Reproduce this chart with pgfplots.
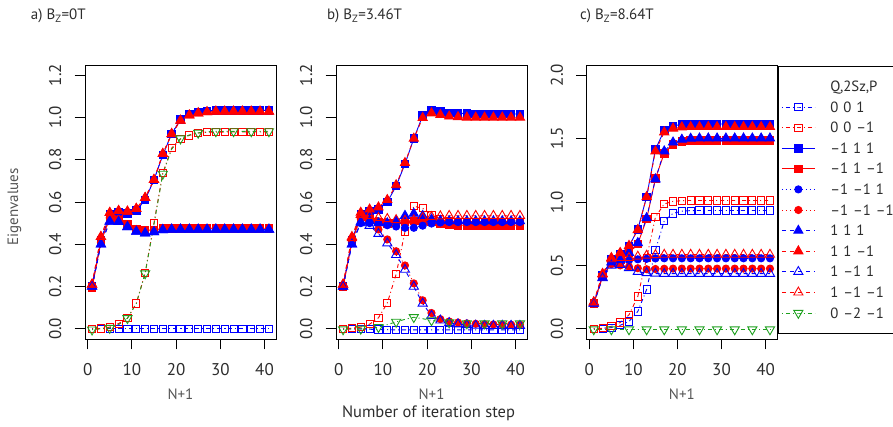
\documentclass[border=0pt]{standalone}
\usepackage{fontspec}
\setmainfont{PT Sans}
\usepackage{pgfplots}
\usepackage{pgfplotstable}
\pgfplotsset{compat=1.18}

\definecolor{cblue}{RGB}{0,0,255}
\definecolor{cred}{RGB}{255,0,0}
\definecolor{cgreen}{RGB}{30,160,30}
\definecolor{txt}{RGB}{45,45,45}
\definecolor{lab}{RGB}{85,85,85}
\newcommand\fs{\fontsize{15}{18}\selectfont}
\newcommand\ft{\fontsize{17}{20}\selectfont}

% eigenvalues per symmetry sector, every second iteration step
\pgfplotstableread{
x   s1     s2     s3     s4     s5     s6     s7     s8     s9     s10    s11
1   0.000  0.000  0.200  0.195  0.200  0.195  0.200  0.210  0.200  0.210  -0.004
3   0.000  0.002  0.420  0.410  0.420  0.410  0.400  0.435  0.400  0.435  0.000
5   0.000  0.008  0.540  0.525  0.540  0.525  0.508  0.549  0.508  0.549  0.004
7   0.000  0.025  0.550  0.520  0.550  0.520  0.506  0.558  0.506  0.558  0.020
9   0.000  0.050  0.545  0.495  0.545  0.495  0.482  0.555  0.482  0.555  0.050
11  0.000  0.120  0.560  0.472  0.560  0.472  0.460  0.568  0.460  0.568  0.120
13  0.000  0.263  0.610  0.466  0.610  0.466  0.452  0.620  0.452  0.620  0.262
15  0.000  0.500  0.705  0.468  0.705  0.468  0.458  0.705  0.458  0.705  0.495
17  0.000  0.737  0.822  0.474  0.822  0.474  0.468  0.828  0.468  0.828  0.733
19  0.000  0.855  0.922  0.476  0.922  0.476  0.470  0.922  0.470  0.922  0.850
21  0.000  0.898  0.990  0.476  0.990  0.476  0.470  0.985  0.470  0.985  0.900
23  0.000  0.915  1.016  0.476  1.016  0.476  0.470  1.010  0.470  1.010  0.917
25  0.000  0.926  1.026  0.476  1.026  0.476  0.470  1.020  0.470  1.020  0.927
27  0.000  0.930  1.031  0.476  1.031  0.476  0.470  1.025  0.470  1.025  0.932
29  0.000  0.930  1.033  0.476  1.033  0.476  0.470  1.028  0.470  1.028  0.934
31  0.000  0.931  1.033  0.476  1.033  0.476  0.470  1.028  0.470  1.028  0.934
33  0.000  0.931  1.033  0.476  1.033  0.476  0.470  1.028  0.470  1.028  0.934
35  0.000  0.931  1.033  0.476  1.033  0.476  0.470  1.028  0.470  1.028  0.934
37  0.000  0.931  1.033  0.476  1.033  0.476  0.470  1.028  0.470  1.028  0.934
39  0.000  0.931  1.033  0.476  1.033  0.476  0.470  1.028  0.470  1.028  0.934
41  0.000  0.931  1.033  0.476  1.033  0.476  0.470  1.028  0.470  1.028  0.934
}\tabA

\pgfplotstableread{
x   s1     s2     s3     s4     s5     s6     s7     s8     s9     s10    s11
1   0.000  0.000  0.200  0.198  0.200  0.200  0.200  0.210  0.200  0.210  -0.003
3   0.000  0.003  0.420  0.412  0.410  0.420  0.400  0.435  0.400  0.430  0.000
5   0.000  0.008  0.540  0.530  0.500  0.520  0.505  0.550  0.500  0.540  0.000
7  -0.002  0.022  0.555  0.520  0.500  0.520  0.510  0.565  0.488  0.535  0.004
9  -0.003  0.052  0.565  0.505  0.498  0.470  0.500  0.575  0.450  0.525  0.008
11 -0.004  0.122  0.600  0.498  0.490  0.423  0.500  0.610  0.405  0.520  0.020
13 -0.005  0.258  0.675  0.500  0.484  0.367  0.510  0.680  0.350  0.515  0.033
15 -0.005  0.460  0.780  0.505  0.478  0.300  0.535  0.785  0.280  0.512  0.045
17 -0.005  0.580  0.900  0.510  0.478  0.215  0.545  0.900  0.200  0.515  0.055
19 -0.005  0.570  1.008  0.510  0.488  0.135  0.535  0.998  0.120  0.525  0.048
21 -0.005  0.540  1.035  0.505  0.498  0.075  0.518  1.020  0.062  0.530  0.040
23 -0.005  0.520  1.027  0.497  0.503  0.046  0.512  1.012  0.040  0.533  0.034
25 -0.005  0.510  1.022  0.492  0.505  0.035  0.510  1.005  0.028  0.535  0.030
27 -0.005  0.505  1.020  0.490  0.505  0.030  0.510  1.002  0.022  0.535  0.028
29 -0.005  0.502  1.018  0.490  0.505  0.026  0.510  1.000  0.018  0.535  0.026
31 -0.005  0.500  1.017  0.490  0.505  0.024  0.510  1.000  0.016  0.535  0.025
33 -0.005  0.500  1.016  0.490  0.505  0.022  0.510  1.000  0.015  0.535  0.025
35 -0.005  0.500  1.016  0.490  0.505  0.021  0.510  1.000  0.015  0.535  0.025
37 -0.005  0.500  1.016  0.490  0.505  0.020  0.510  1.000  0.015  0.535  0.025
39 -0.005  0.500  1.016  0.490  0.505  0.020  0.510  1.000  0.015  0.535  0.025
41 -0.005  0.500  1.016  0.490  0.505  0.020  0.510  1.000  0.015  0.535  0.025
}\tabB

\pgfplotstableread{
x   s1     s2     s3     s4     s5     s6     s7     s8     s9     s10    s11
1   0.000  0.000  0.200  0.198  0.200  0.200  0.200  0.210  0.200  0.210  -0.005
3   0.002  0.004  0.420  0.410  0.410  0.410  0.405  0.435  0.400  0.430  -0.005
5   0.010  0.020  0.550  0.520  0.515  0.510  0.525  0.560  0.500  0.550  -0.005
7   0.028  0.050  0.590  0.545  0.530  0.500  0.545  0.600  0.505  0.560  -0.005
9   0.058  0.110  0.650  0.600  0.540  0.490  0.600  0.655  0.480  0.560  -0.005
11  0.137  0.255  0.785  0.670  0.548  0.478  0.677  0.780  0.450  0.570  -0.005
13  0.310  0.560  1.040  0.865  0.552  0.470  0.874  1.040  0.440  0.578  -0.005
15  0.620  0.880  1.415  1.185  0.555  0.472  1.180  1.400  0.436  0.582  -0.005
17  0.850  0.985  1.565  1.385  0.556  0.474  1.400  1.550  0.435  0.585  -0.005
19  0.910  1.005  1.600  1.455  0.556  0.475  1.470  1.580  0.435  0.585  -0.005
21  0.928  1.010  1.612  1.478  0.556  0.475  1.492  1.590  0.435  0.585  -0.005
23  0.932  1.012  1.615  1.483  0.556  0.475  1.500  1.592  0.435  0.585  -0.005
25  0.933  1.012  1.615  1.485  0.556  0.475  1.502  1.592  0.435  0.585  -0.005
27  0.933  1.012  1.615  1.485  0.556  0.475  1.502  1.592  0.435  0.585  -0.005
29  0.933  1.012  1.615  1.485  0.556  0.475  1.502  1.592  0.435  0.585  -0.005
31  0.933  1.012  1.615  1.485  0.556  0.475  1.502  1.592  0.435  0.585  -0.005
33  0.933  1.012  1.615  1.485  0.556  0.475  1.502  1.592  0.435  0.585  -0.005
35  0.933  1.012  1.615  1.485  0.556  0.475  1.502  1.592  0.435  0.585  -0.005
37  0.933  1.012  1.615  1.485  0.556  0.475  1.502  1.592  0.435  0.585  -0.005
39  0.933  1.012  1.615  1.485  0.556  0.475  1.502  1.592  0.435  0.585  -0.005
41  0.933  1.012  1.615  1.485  0.556  0.475  1.502  1.592  0.435  0.585  -0.005
}\tabC

\pgfplotsset{
  dotdash/.style={dash pattern=on 1pt off 3pt on 4pt off 3pt},
  ser/.style={line width=0.9pt, mark options={solid}},
  ser1/.style={ser, cblue, dotdash, mark=square, mark size=3.6pt},
  ser2/.style={ser, cred, dotdash, mark=square, mark size=3.6pt},
  ser3/.style={ser, cblue, solid, mark=square*, mark size=3.8pt},
  ser4/.style={ser, cred, solid, mark=square*, mark size=3.8pt},
  ser5/.style={ser, cblue, dash pattern=on 1pt off 3pt, mark=*, mark size=3.6pt},
  ser6/.style={ser, cred, dash pattern=on 1pt off 3pt, mark=*, mark size=3.6pt},
  ser7/.style={ser, cblue, dash pattern=on 4pt off 4pt, mark=triangle*, mark size=5.3pt},
  ser8/.style={ser, cred, dash pattern=on 4pt off 4pt, mark=triangle*, mark size=5.3pt},
  ser9/.style={ser, cblue, dash pattern=on 4pt off 4pt, mark=triangle, mark size=5.3pt},
  ser10/.style={ser, cred, dash pattern=on 4pt off 4pt, mark=triangle, mark size=5.3pt},
  ser11/.style={ser, cgreen, dotdash, mark=triangle, mark size=5.3pt,
    mark options={solid, rotate=180}, mark repeat=2, mark phase=1},
  panel/.style={
    scale only axis, width=191pt, height=274pt, anchor=south west,
    xmin=-0.6, xmax=42.6, xtick={0,10,20,30,40},
    tick pos=left, tick align=outside, major tick length=10.5pt,
    axis line style={line width=0.8pt, black},
    every tick/.style={line width=0.8pt, black},
    ticklabel style={font=\ft, text=txt},
    /pgf/number format/assume math mode=true,
    xticklabel style={inner sep=0pt},
    xticklabel shift=14pt, yticklabel shift=13pt,
    yticklabel style={rotate=90, anchor=south, inner sep=0pt,
      /pgf/number format/fixed, /pgf/number format/fixed zerofill,
      /pgf/number format/precision=1},
    xlabel={N+1},
    xlabel style={font=\fs, text=lab, at={(axis description cs:0.5,0)},
      anchor=center, yshift=-55pt},
  },
}

\newcommand\allplots[1]{%
  \addplot[ser1] table[x=x,y=s1]{#1};
  \addplot[ser2] table[x=x,y=s2]{#1};
  \addplot[ser3] table[x=x,y=s3]{#1};
  \addplot[ser4] table[x=x,y=s4]{#1};
  \addplot[ser5] table[x=x,y=s5]{#1};
  \addplot[ser6] table[x=x,y=s6]{#1};
  \addplot[ser7] table[x=x,y=s7]{#1};
  \addplot[ser8] table[x=x,y=s8]{#1};
  \addplot[ser9] table[x=x,y=s9]{#1};
  \addplot[ser10] table[x=x,y=s10]{#1};
  \addplot[ser11] table[x=x,y=s11]{#1};
}

\begin{document}
\begin{tikzpicture}
\useasboundingbox (0pt,0pt) rectangle (893pt,427pt);

\begin{axis}[panel, at={(85pt,88pt)}, ymin=-0.048, ymax=1.248,
  ytick={0,0.2,0.4,0.6,0.8,1.0,1.2}]
  \allplots{\tabA}
\end{axis}

\begin{axis}[panel, at={(336pt,88pt)}, ymin=-0.048, ymax=1.248,
  ytick={0,0.2,0.4,0.6,0.8,1.0,1.2}]
  \allplots{\tabB}
\end{axis}

\begin{axis}[panel, at={(586.7pt,88pt)}, width=190.3pt, ymin=-0.08, ymax=2.08,
  ytick={0,0.5,1.0,1.5,2.0},
  legend cell align=left,
  legend style={at={(axis description cs:1,1)}, anchor=north west,
    xshift=1.3pt, yshift=-0.7pt, draw=black, line width=0.8pt, fill=white,
    inner xsep=2.7pt, inner ysep=10pt, row sep=0pt, column sep=15pt,
    font=\fontsize{14.8}{18}\selectfont, text=txt,
    nodes={inner sep=0pt, text height=15.5pt, text depth=5.1pt,
      text width=75pt, align=left}},
  legend image code/.code={%
    \draw[#1, mark repeat=2, mark phase=2]
      plot coordinates {(0pt,0pt) (16.5pt,0pt) (33pt,0pt)};}]
  \addlegendimage{empty legend}
  \addlegendentry{Q,2Sz,P}
  \addplot[ser1] table[x=x,y=s1]{\tabC};   \addlegendentry{0 0 1}
  \addplot[ser2] table[x=x,y=s2]{\tabC};   \addlegendentry{0 0 –1}
  \addplot[ser3] table[x=x,y=s3]{\tabC};   \addlegendentry{–1 1 1}
  \addplot[ser4] table[x=x,y=s4]{\tabC};   \addlegendentry{–1 1 –1}
  \addplot[ser5] table[x=x,y=s5]{\tabC};   \addlegendentry{–1 –1 1}
  \addplot[ser6] table[x=x,y=s6]{\tabC};   \addlegendentry{–1 –1 –1}
  \addplot[ser7] table[x=x,y=s7]{\tabC};   \addlegendentry{1 1 1}
  \addplot[ser8] table[x=x,y=s8]{\tabC};   \addlegendentry{1 1 –1}
  \addplot[ser9] table[x=x,y=s9]{\tabC};   \addlegendentry{1 –1 1}
  \addplot[ser10] table[x=x,y=s10]{\tabC}; \addlegendentry{1 –1 –1}
  \addplot[ser11] table[x=x,y=s11]{\tabC}; \addlegendentry{0 –2 –1}
\end{axis}

% panel titles and shared axis captions
\node[anchor=base west, inner sep=0pt, font=\fs, text=txt] at (30.7pt,407pt) {a) B\textsubscript{Z}=0T};
\node[anchor=base west, inner sep=0pt, font=\fs, text=txt] at (327pt,407pt) {b) B\textsubscript{Z}=3.46T};
\node[anchor=base west, inner sep=0pt, font=\fs, text=txt] at (580pt,407pt) {c) B\textsubscript{Z}=8.64T};
\node[rotate=90, font=\fs, text=lab] at (14.5pt,220pt) {Eigenvalues};
\node[font=\fontsize{16.5}{19}\selectfont, text=txt] at (428.5pt,14pt) {Number of iteration step};
\end{tikzpicture}
\end{document}
